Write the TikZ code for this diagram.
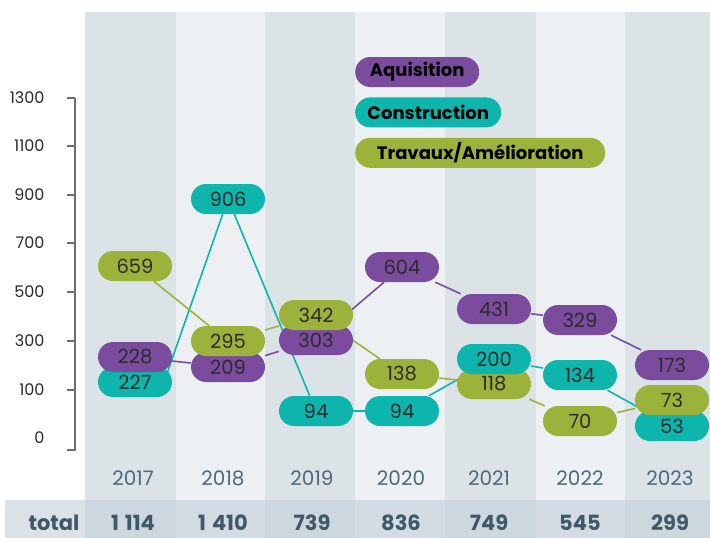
\documentclass[tikz,border=0pt]{standalone}
\usepackage{fontspec}
\setmainfont{Poppins}
\usepackage{xcolor}
\usetikzlibrary{positioning,backgrounds}
\definecolor{aqui}{HTML}{7B4C9E}
\definecolor{cons}{HTML}{0DB5AD}
\definecolor{trav}{HTML}{9BB33A}
\definecolor{stripedark}{HTML}{DCE3E7}
\definecolor{stripelight}{HTML}{ECF0F3}
\definecolor{bandcol}{HTML}{C3D0D8}
\definecolor{slate}{HTML}{3F5968}
\definecolor{yearcol}{HTML}{4F6878}
\definecolor{ink}{HTML}{2B2B2B}
\definecolor{axiscol}{HTML}{6E6E6E}

\begin{document}
\begin{tikzpicture}
 	[x=1pt, y=-1pt,
 	% STYLES
 	% The pill style is used to draw every value of the chart
 	pill/.style={rectangle, rounded corners=15pt, minimum width=74pt, minimum height=30pt, inner sep=0pt, text=ink, font=\fontsize{19.5}{19.5}\selectfont},
 	% The legend style is used to draw the names of the three categories
 	legend/.style={rectangle, rounded corners=15pt, minimum height=30pt, inner sep=0pt, text=black, font=\fontsize{18}{18}\selectfont\bfseries},
 	ticklabel/.style={anchor=east, text=ink, font=\fontsize{16}{16}\selectfont},
 	year/.style={text=yearcol, font=\fontsize{20}{20}\selectfont},
 	total/.style={text=slate, font=\fontsize{21}{21}\selectfont\bfseries},
 	link/.style={line width=1.6pt}]
 	
 	\useasboundingbox (0,0) rectangle (710,538);
 	% columns and bottom band
 	\begin{scope}[on background layer]
 	\fill[white] (0,0) rectangle (710,538);
 	\foreach \xa/\xb/\col in {85/176/stripedark, 176/265/stripelight, 265/355/stripedark, 355/445/stripelight, 445/536/stripedark, 536/625/stripelight, 625/710/stripedark}
 	\fill[\col] (\xa,12) rectangle (\xb,538);
 	\fill[bandcol, fill opacity=0.6] (5,500) rectangle (710,538);
 	\end{scope}
 	
 	% y axis
 	\draw[axiscol, line width=1.2pt] (75,98) -- (75,450) -- (67,450);
 	\foreach \v/\y in {1300/98, 1100/146, 900/195, 700/243, 500/292, 300/341, 100/390}{
 	\draw[axiscol, line width=1.2pt] (67,\y) -- (75,\y);
 	\node[ticklabel] (tick\v) at (48,\y) {\v};
 	}
 	\node[ticklabel] (tick0) at (48,438) {0};
 	
 	% values, column by column
 	\node[pill, fill=cons] (C17) at (135,382) {227};
 	\node[pill, fill=aqui] (A17) at (135,357) {228};
 	\node[pill, fill=trav] (T17) at (135,266) {659};
 	\node[pill, fill=cons] (C18) at (228,199) {906};
 	\node[pill, fill=aqui] (A18) at (228,367) {209};
 	\node[pill, fill=trav] (T18) at (228,341) {295};
 	\node[pill, fill=cons] (C19) at (316,411) {94};
 	\node[pill, fill=aqui] (A19) at (316,340) {303};
 	\node[pill, fill=trav] (T19) at (316,315) {342};
 	\node[pill, fill=aqui] (A20) at (402,267) {604};
 	\node[pill, fill=trav] (T20) at (402,374) {138};
 	\node[pill, fill=cons] (C20) at (402,411) {94};
 	\node[pill, fill=aqui] (A21) at (494,309) {431};
 	\node[pill, fill=trav] (T21) at (494,384) {118};
 	\node[pill, fill=cons] (C21) at (494,359) {200};
 	\node[pill, fill=aqui] (A22) at (580,320) {329};
 	\node[pill, fill=cons] (C22) at (580,375) {134};
 	\node[pill, fill=trav] (T22) at (580,421) {70};
 	\node[pill, fill=aqui] (A23) at (672,365) {173};
 	\node[pill, fill=cons] (C23) at (672,426) {53};
 	\node[pill, fill=trav] (T23) at (672,400) {73};
 	
 	% legend
 	\node[legend, fill=aqui, minimum width=124pt, anchor=west] (LegAqui) at (355,72) {Aquisition};
 	\node[legend, fill=cons, minimum width=146pt, below=10pt of LegAqui.south west, anchor=north west] (LegCons) {Construction};
 	\node[legend, fill=trav, minimum width=250pt, below=10pt of LegCons.south west, anchor=north west] (LegTrav) {Travaux/Amélioration};
 	
 	% years and totals
 	\node[total] (Total) at (54,523) {total};
 	\foreach \x/\yr/\tot in {133/2017/1\hspace{6pt}114, 223/2018/1\hspace{6pt}410, 312/2019/739, 401/2020/836, 489/2021/749, 580/2022/545, 670/2023/299}{
 	\node[year] (Y\yr) at (\x,478) {\yr};
 	\node[total] (S\yr) at (\x,523) {\tot};
 	}
 	
 	% Draw the lines between the values of each category
 	\begin{scope}[on background layer]
 	\path[link, color=aqui]
 	(A17) edge (A18)
 	(A18) edge (A19)
 	(A19) edge (A20)
 	(A20) edge (A21)
 	(A21) edge (A22)
 	(A22) edge (A23);
 	\path[link, color=cons]
 	([xshift=29pt]C17.center) edge (C18)
 	(C18) edge (C19)
 	(C19) edge (C20)
 	(C20) edge (C21)
 	(C21) edge (C22)
 	(C22) edge (C23);
 	\path[link, color=trav]
 	(T17) edge (T18)
 	(T18) edge (T19)
 	(T19) edge (T20)
 	(T20) edge (T21)
 	(T21) edge (T22)
 	(T22) edge (T23);
 	\end{scope}
 	
\end{tikzpicture}
\end{document}
